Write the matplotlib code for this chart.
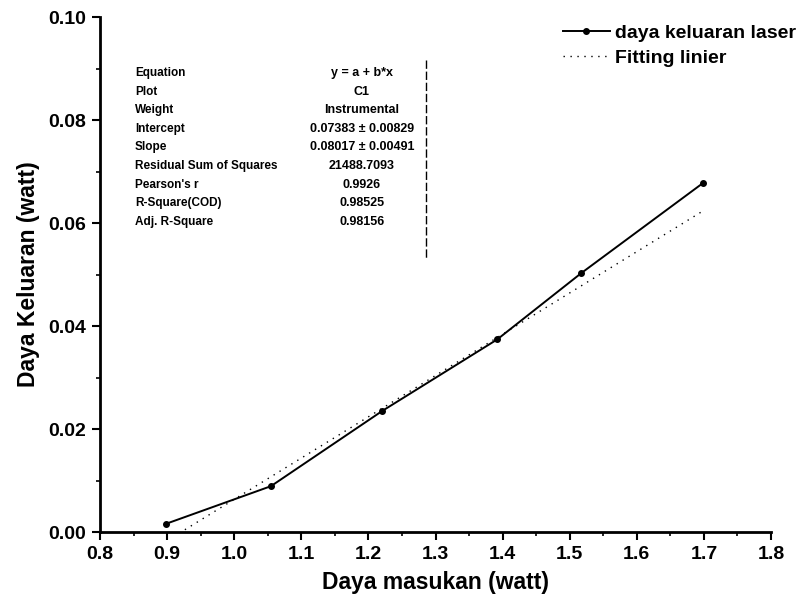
import numpy as np
import matplotlib.pyplot as plt
from matplotlib.ticker import MultipleLocator, FormatStrFormatter

plt.rcParams['font.family'] = ['Liberation Sans', 'DejaVu Sans']

# daya masukan (watt) vs daya keluaran laser (watt)
x_in = [0.8985, 1.0547, 1.2205, 1.392, 1.5175, 1.699]
y_out = [0.0016, 0.0089, 0.0235, 0.0374, 0.0503, 0.0678]

# hasil fitting linier
a_fit = -0.07383
b_fit = 0.08017
x_fit = np.linspace(0.9, 1.7, 50)
y_fit = a_fit + b_fit*x_fit

stat_names = ["Equation", "Plot", "Weight", "Intercept", "Slope",
              "Residual Sum of Squares", "Pearson's r", "R-Square(COD)",
              "Adj. R-Square"]
stat_values = ["y = a + b*x", "C1", "Instrumental", "0.07383 \u00b1 0.00829",
               "0.08017 \u00b1 0.00491", "21488.7093", "0.9926", "0.98525",
               "0.98156"]

fig = plt.figure(figsize=(8.04, 6.12), dpi=100)
ax = fig.add_axes([0.1244, 0.1307, 0.8346, 0.8415])

ax.plot(x_in, y_out, color='black', lw=1.4, marker='o', ms=4,
        label='daya keluaran laser')
ax.plot(x_fit, y_fit, color='black', lw=1.0, ls=(0, (1, 4)),
        label='Fitting linier')

ax.set_xlim(0.8, 1.8)
ax.set_ylim(0.0, 0.10)
ax.xaxis.set_major_locator(MultipleLocator(0.1))
ax.xaxis.set_minor_locator(MultipleLocator(0.05))
ax.yaxis.set_major_locator(MultipleLocator(0.02))
ax.yaxis.set_minor_locator(MultipleLocator(0.01))
ax.xaxis.set_major_formatter(FormatStrFormatter('%.1f'))
ax.yaxis.set_major_formatter(FormatStrFormatter('%.2f'))

for s in ['top', 'right']:
    ax.spines[s].set_visible(False)
for s in ['left', 'bottom']:
    ax.spines[s].set_linewidth(2)
ax.tick_params(which='major', direction='out', length=6, width=1.5,
               labelsize=14, pad=4)
ax.tick_params(which='minor', direction='out', length=3, width=1.2)
for lab in ax.get_xticklabels() + ax.get_yticklabels():
    lab.set_fontweight('bold')

ax.set_xlabel('Daya masukan (watt)', fontsize=16.5, fontweight='bold',
              labelpad=6)
ax.set_ylabel('Daya Keluaran (watt)', fontsize=16.5, fontweight='bold',
              labelpad=6)

leg = fig.legend(loc='upper left', bbox_to_anchor=(563/804, 1 - 24/612),
                 frameon=False, handlelength=2.4, handletextpad=0.25,
                 borderpad=0, borderaxespad=0, labelspacing=0.4,
                 prop={'weight': 'bold', 'size': 14})

# tabel hasil fitting
row_y = 73
for name, val in zip(stat_names, stat_values):
    fig.text(135/804, 1 - row_y/612, name, fontsize=8.5, fontweight='bold',
             va='center', ha='left')
    fig.text(362/804, 1 - row_y/612, val, fontsize=9, fontweight='bold',
             va='center', ha='center')
    row_y += 18.6
fig.add_artist(plt.Line2D([426/804, 426/804], [1 - 60/612, 1 - 258/612],
                          color='black', lw=1, ls=(0, (6, 2))))

fig.savefig('out.png', dpi=100)
